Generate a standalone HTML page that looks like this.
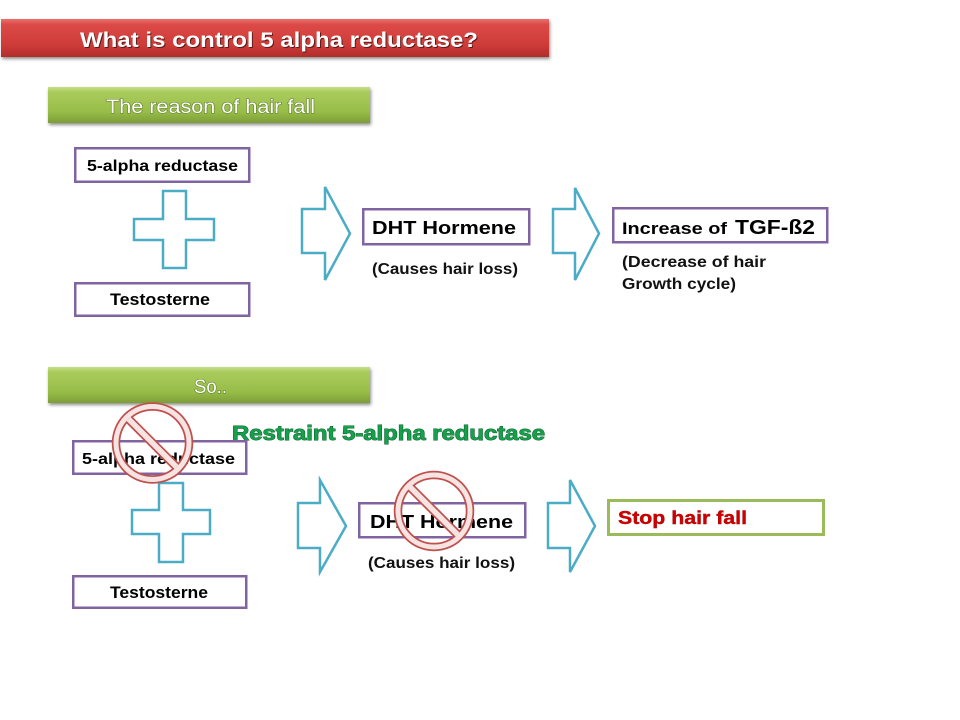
<!DOCTYPE html>
<html><head><meta charset="utf-8"><style>
html,body{margin:0;padding:0;background:#fff;width:960px;height:720px;overflow:hidden}
svg{display:block}
text{font-family:"Liberation Sans",Arial,sans-serif}
</style></head><body>
<svg width="960" height="720" viewBox="0 0 960 720" xmlns="http://www.w3.org/2000/svg">
<defs>
<linearGradient id="red" x1="0" y1="0" x2="0" y2="1">
<stop offset="0" stop-color="#e8706c"/><stop offset="0.15" stop-color="#dc4a47"/><stop offset="0.7" stop-color="#cd3b38"/><stop offset="1" stop-color="#b02c2a"/>
</linearGradient>
<linearGradient id="grn" x1="0" y1="0" x2="0" y2="1">
<stop offset="0" stop-color="#c5df86"/><stop offset="0.15" stop-color="#a9cb5c"/><stop offset="0.7" stop-color="#97bc47"/><stop offset="1" stop-color="#7d9d38"/>
</linearGradient>
<filter id="sh" x="-5%" y="-20%" width="110%" height="160%">
<feGaussianBlur in="SourceAlpha" stdDeviation="1.5"/><feOffset dx="1" dy="2"/>
<feComponentTransfer><feFuncA type="linear" slope="0.45"/></feComponentTransfer>
<feMerge><feMergeNode/><feMergeNode in="SourceGraphic"/></feMerge>
</filter>
</defs>

<!-- Title -->
<rect x="1" y="19" width="548" height="38" fill="url(#red)" filter="url(#sh)"/>
<text x="81" y="48" font-size="21" font-weight="bold" fill="#5a1a18" textLength="398" lengthAdjust="spacingAndGlyphs">What is control 5 alpha reductase?</text>
<text x="80" y="47" font-size="21" font-weight="bold" fill="#ffffff" textLength="398" lengthAdjust="spacingAndGlyphs">What is control 5 alpha reductase?</text>

<!-- Green bar 1 -->
<rect x="48" y="87" width="322" height="36" fill="url(#grn)" filter="url(#sh)"/>
<text x="106" y="113" font-size="19" fill="#ffffff" stroke="#5f7d2a" stroke-width="1.1" paint-order="stroke" textLength="209" lengthAdjust="spacingAndGlyphs">The reason of hair fall</text>

<!-- Top left boxes -->
<rect x="75.25" y="148.25" width="174" height="33.5" fill="#fff" stroke="#8064a2" stroke-width="2.5"/>
<text x="87" y="171" font-size="16" font-weight="bold" fill="#000" textLength="151" lengthAdjust="spacingAndGlyphs">5-alpha reductase</text>
<polygon points="163,191 186,191 186,219 214,219 214,240 186,240 186,268 163,268 163,240 134,240 134,219 163,219" fill="#fff" stroke="#4bacc6" stroke-width="2.5"/>
<rect x="75.25" y="283.25" width="174" height="32.5" fill="#fff" stroke="#8064a2" stroke-width="2.5"/>
<text x="110" y="305" font-size="16.5" font-weight="bold" fill="#000" textLength="100" lengthAdjust="spacingAndGlyphs">Testosterne</text>

<!-- Arrow A -->
<polygon points="302,209 325,209 325,187 350,233.5 325,280 325,253 302,253" fill="#fff" stroke="#4bacc6" stroke-width="2.5" stroke-linejoin="miter"/>

<!-- DHT top -->
<rect x="363.25" y="209.25" width="166" height="35" fill="#fff" stroke="#8064a2" stroke-width="2.5"/>
<text x="372" y="234" font-size="18" font-weight="bold" fill="#000" textLength="144" lengthAdjust="spacingAndGlyphs">DHT Hormene</text>
<text x="372" y="274" font-size="16" font-weight="bold" fill="#111" textLength="146" lengthAdjust="spacingAndGlyphs">(Causes hair loss)</text>

<!-- Arrow B -->
<polygon points="553,209 575,209 575,188 599,233.5 575,280 575,253 553,253" fill="#fff" stroke="#4bacc6" stroke-width="2.5"/>

<!-- Increase box -->
<rect x="613.25" y="208.25" width="214" height="34" fill="#fff" stroke="#8064a2" stroke-width="2.5"/>
<text x="622" y="234" font-size="17" font-weight="bold" fill="#000" textLength="105" lengthAdjust="spacingAndGlyphs">Increase of</text>
<text x="735" y="234" font-size="20.5" font-weight="bold" fill="#000" textLength="80" lengthAdjust="spacingAndGlyphs">TGF-ß2</text>
<text x="622" y="267" font-size="16" font-weight="bold" fill="#111" textLength="144" lengthAdjust="spacingAndGlyphs">(Decrease of hair</text>
<text x="622" y="289" font-size="16" font-weight="bold" fill="#111" textLength="114" lengthAdjust="spacingAndGlyphs">Growth cycle)</text>

<!-- Green bar 2 -->
<rect x="48" y="367" width="322" height="36" fill="url(#grn)" filter="url(#sh)"/>
<text x="194" y="393" font-size="19" fill="#ffffff" stroke="#5f7d2a" stroke-width="1.1" paint-order="stroke" textLength="33" lengthAdjust="spacingAndGlyphs">So..</text>

<!-- Restraint -->
<text x="232" y="440" font-size="20" font-weight="bold" fill="#16a04c" stroke="#0b5e2c" stroke-width="0.9" paint-order="stroke" textLength="313" lengthAdjust="spacingAndGlyphs">Restraint 5-alpha reductase</text>

<!-- Bottom left boxes -->
<rect x="73.25" y="441.25" width="173" height="32.5" fill="#fff" stroke="#8064a2" stroke-width="2.5"/>
<text x="82" y="464" font-size="16" font-weight="bold" fill="#000" textLength="153" lengthAdjust="spacingAndGlyphs">5-alpha reductase</text>
<polygon points="159,483 183,483 183,510 210,510 210,534 183,534 183,562 159,562 159,534 132,534 132,510 159,510" fill="#fff" stroke="#4bacc6" stroke-width="2.5"/>
<rect x="73.25" y="576.25" width="173" height="31.5" fill="#fff" stroke="#8064a2" stroke-width="2.5"/>
<text x="110" y="598" font-size="16.5" font-weight="bold" fill="#000" textLength="98" lengthAdjust="spacingAndGlyphs">Testosterne</text>

<!-- Arrow C -->
<polygon points="298,503 320,503 320,480 346,526 320,572 320,548 298,548" fill="#fff" stroke="#4bacc6" stroke-width="2.5"/>

<!-- DHT bottom -->
<rect x="359.25" y="503.25" width="166" height="34" fill="#fff" stroke="#8064a2" stroke-width="2.5"/>
<text x="370" y="528" font-size="18" font-weight="bold" fill="#000" textLength="143" lengthAdjust="spacingAndGlyphs">DHT Hormene</text>
<text x="368" y="568" font-size="16" font-weight="bold" fill="#111" textLength="147" lengthAdjust="spacingAndGlyphs">(Causes hair loss)</text>

<!-- Arrow D -->
<polygon points="548,503 570,503 570,480 595,526 570,572 570,548 548,548" fill="#fff" stroke="#4bacc6" stroke-width="2.5"/>

<!-- Stop box -->
<rect x="608.5" y="500.5" width="215" height="34" fill="#fff" stroke="#9bbb59" stroke-width="3"/>
<text x="618" y="524" font-size="18.5" font-weight="bold" fill="#cc0000" stroke="#8a0000" stroke-width="0.4" paint-order="stroke" textLength="129" lengthAdjust="spacingAndGlyphs">Stop hair fall</text>

<!-- Prohibition sign 1 -->
<g transform="translate(152.5,443)">
<circle r="36.5" fill="none" stroke="#c0504d" stroke-width="8.5"/>
<line x1="-25" y1="-25" x2="25" y2="25" stroke="#c0504d" stroke-width="9"/>
<circle r="36.5" fill="none" stroke="#f6e4e3" stroke-width="5"/>
<line x1="-24" y1="-24" x2="24" y2="24" stroke="#f6e4e3" stroke-width="5.5"/>
</g>

<!-- Prohibition sign 2 -->
<g transform="translate(434,511)">
<circle r="36" fill="none" stroke="#c0504d" stroke-width="8.5"/>
<line x1="-25" y1="-25" x2="25" y2="25" stroke="#c0504d" stroke-width="9"/>
<circle r="36" fill="none" stroke="#f6e4e3" stroke-width="5"/>
<line x1="-24" y1="-24" x2="24" y2="24" stroke="#f6e4e3" stroke-width="5.5"/>
</g>
</svg>
</body></html>
